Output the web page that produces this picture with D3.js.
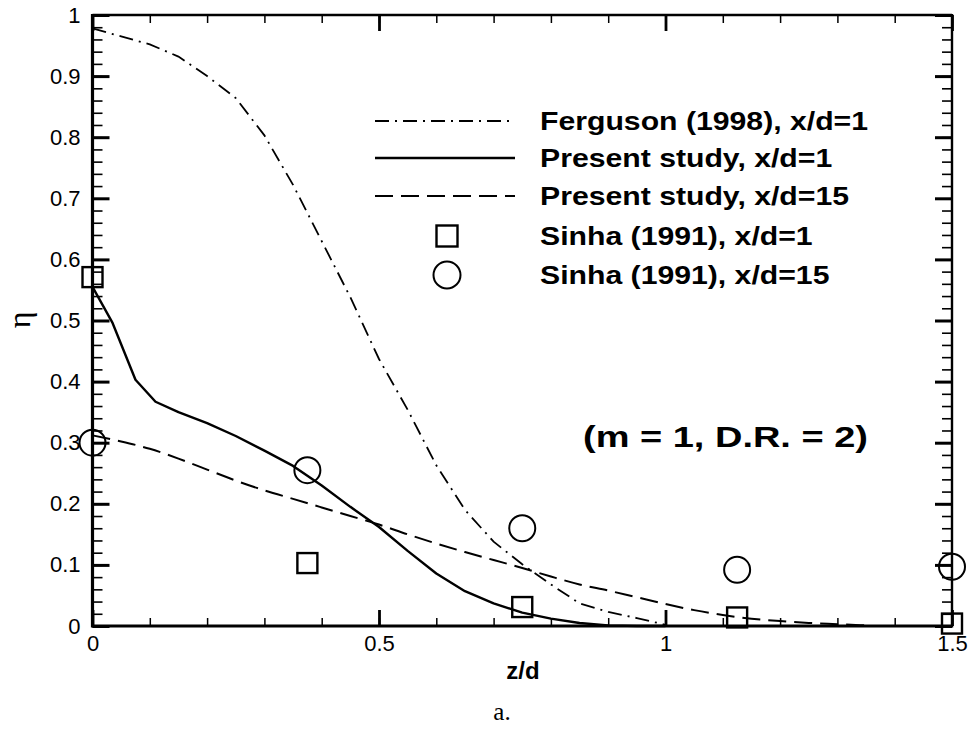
<!DOCTYPE html>
<html>
<head>
<meta charset="utf-8">
<script src="https://cdn.jsdelivr.net/npm/d3@7"></script>
<style>
  html, body { margin: 0; padding: 0; background: #fff; }
  svg { display: block; }
</style>
</head>
<body>
<svg id="chart" width="972" height="732"></svg>
<script>
// ---------- DATA ----------
const fergusonZ   = [0, 0.05, 0.1, 0.15, 0.2, 0.25, 0.3, 0.35, 0.4, 0.45, 0.5, 0.55, 0.6, 0.65, 0.7, 0.75, 0.8, 0.85, 0.9, 0.95, 1.0];
const fergusonEta = [0.978, 0.965, 0.952, 0.932, 0.9, 0.864, 0.803, 0.722, 0.63, 0.538, 0.437, 0.354, 0.263, 0.19, 0.138, 0.101, 0.068, 0.037, 0.023, 0.013, 0.002];

const presentX1Z   = [0, 0.035, 0.075, 0.11, 0.15, 0.2, 0.25, 0.3, 0.35, 0.4, 0.45, 0.5, 0.55, 0.6, 0.65, 0.7, 0.75, 0.8, 0.85, 0.9, 0.95, 1.0];
const presentX1Eta = [0.555, 0.496, 0.403, 0.367, 0.35, 0.332, 0.311, 0.287, 0.262, 0.23, 0.195, 0.162, 0.123, 0.086, 0.057, 0.037, 0.022, 0.012, 0.005, 0.001, 0, 0];

const presentX15Z   = [0, 0.05, 0.1, 0.15, 0.2, 0.25, 0.3, 0.35, 0.4, 0.45, 0.5, 0.55, 0.6, 0.65, 0.7, 0.75, 0.8, 0.85, 0.9, 0.95, 1.0, 1.05, 1.1, 1.15, 1.2, 1.25, 1.3, 1.35];
const presentX15Eta = [0.312, 0.302, 0.29, 0.274, 0.256, 0.238, 0.222, 0.208, 0.194, 0.18, 0.166, 0.15, 0.135, 0.121, 0.108, 0.095, 0.081, 0.068, 0.058, 0.047, 0.036, 0.026, 0.018, 0.012, 0.008, 0.005, 0.003, 0.001];

const sinhaZ      = [0, 0.375, 0.75, 1.125, 1.5];
const sinhaX1Eta  = [0.571, 0.103, 0.031, 0.014, 0.004];
const sinhaX15Eta = [0.30, 0.255, 0.16, 0.092, 0.097];

const xMajorTicks = [0, 0.5, 1, 1.5];
const xMajorLabels = ["0", "0.5", "1", "1.5"];
const yMajorTicks = [0, 0.1, 0.2, 0.3, 0.4, 0.5, 0.6, 0.7, 0.8, 0.9, 1];
const yMajorLabels = ["0", "0.1", "0.2", "0.3", "0.4", "0.5", "0.6", "0.7", "0.8", "0.9", "1"];

const legendLabels = ["Ferguson (1998), x/d=1", "Present study, x/d=1", "Present study, x/d=15", "Sinha (1991), x/d=1", "Sinha (1991), x/d=15"];
const annotationText = "(m = 1, D.R. = 2)";
const xTitle = "z/d";
const yTitle = "η";
const caption = "a.";

// ---------- LAYOUT ----------
const L = 92.5, R = 952, T = 15, B = 626;
const svg = d3.select("#chart");
const x = d3.scaleLinear().domain([0, 1.5]).range([L, R]);
const y = d3.scaleLinear().domain([0, 1]).range([B, T]);

const font = "'Liberation Sans', Arial, Helvetica, sans-serif";
const serif = "'Liberation Serif', 'Times New Roman', serif";

// ---------- AXES ----------
const xMinor = d3.range(0, 1.5001, 0.1).map(v => +v.toFixed(2));
const yMinor = d3.range(0, 1.0001, 0.02).map(v => +v.toFixed(2));

function styleAxis(g, w) {
  g.attr("font-size", null).attr("font-family", null);
  g.selectAll("path.domain").remove();
  g.selectAll(".tick line").attr("stroke", "#000").attr("stroke-width", w);
  g.selectAll(".tick text")
    .style("font-family", font).style("font-size", "22px").style("fill", "#000");
}
// bottom
svg.append("g").attr("transform", `translate(0,${B})`)
  .call(d3.axisBottom(x).tickValues(xMinor).tickSize(-8).tickFormat(""))
  .call(g => styleAxis(g, 1.5));
svg.append("g").attr("transform", `translate(0,${B})`)
  .call(d3.axisBottom(x).tickValues(xMajorTicks).tickSize(-16).tickPadding(9)
    .tickFormat((d, i) => xMajorLabels[i]))
  .call(g => styleAxis(g, 2.8));
// top
svg.append("g").attr("transform", `translate(0,${T})`)
  .call(d3.axisTop(x).tickValues(xMinor).tickSize(-8).tickFormat(""))
  .call(g => styleAxis(g, 1.5));
svg.append("g").attr("transform", `translate(0,${T})`)
  .call(d3.axisTop(x).tickValues(xMajorTicks).tickSize(-16).tickFormat(""))
  .call(g => styleAxis(g, 2.8));
// left
svg.append("g").attr("transform", `translate(${L},0)`)
  .call(d3.axisLeft(y).tickValues(yMinor).tickSize(-10).tickFormat(""))
  .call(g => styleAxis(g, 1.6));
svg.append("g").attr("transform", `translate(${L},0)`)
  .call(d3.axisLeft(y).tickValues(yMajorTicks).tickSize(-17).tickPadding(12)
    .tickFormat((d, i) => yMajorLabels[i]))
  .call(g => styleAxis(g, 3));
// right
svg.append("g").attr("transform", `translate(${R},0)`)
  .call(d3.axisRight(y).tickValues(yMinor).tickSize(-10).tickFormat(""))
  .call(g => styleAxis(g, 1.6));
svg.append("g").attr("transform", `translate(${R},0)`)
  .call(d3.axisRight(y).tickValues(yMajorTicks).tickSize(-17).tickFormat(""))
  .call(g => styleAxis(g, 3));

// frame
svg.append("line").attr("x1", L).attr("x2", R).attr("y1", B).attr("y2", B).attr("stroke", "#000").attr("stroke-width", 3.2);
svg.append("line").attr("x1", L).attr("x2", R).attr("y1", T).attr("y2", T).attr("stroke", "#000").attr("stroke-width", 2.4);
svg.append("line").attr("x1", L).attr("x2", L).attr("y1", T - 1).attr("y2", B + 1.5).attr("stroke", "#000").attr("stroke-width", 3.2);
svg.append("line").attr("x1", R).attr("x2", R).attr("y1", T - 1).attr("y2", B + 1.5).attr("stroke", "#000").attr("stroke-width", 2.4);

// ---------- LINES ----------
const smooth = d3.line().x(d => x(d[0])).y(d => y(d[1])).curve(d3.curveMonotoneX);
const poly = d3.line().x(d => x(d[0])).y(d => y(d[1])).curve(d3.curveLinear);
const ferg = fergusonZ.map((z, i) => [z, fergusonEta[i]]);
const p1 = presentX1Z.map((z, i) => [z, presentX1Eta[i]]);
const p15 = presentX15Z.map((z, i) => [z, presentX15Eta[i]]);

const dashDot = "14,6,2,6";
const dashed = "18,8";

svg.append("path").attr("d", poly(ferg)).attr("fill", "none").attr("stroke", "#000")
  .attr("stroke-width", 1.8).attr("stroke-dasharray", dashDot);
svg.append("path").attr("d", poly(p1)).attr("fill", "none").attr("stroke", "#000")
  .attr("stroke-width", 2.4).attr("stroke-linejoin", "round");
svg.append("path").attr("d", smooth(p15)).attr("fill", "none").attr("stroke", "#000")
  .attr("stroke-width", 2).attr("stroke-dasharray", dashed);

// ---------- MARKERS ----------
const sq = 20, cr = 13;
svg.append("g").selectAll("rect").data(sinhaZ).join("rect")
  .attr("x", (d) => x(d) - sq / 2).attr("y", (d, i) => y(sinhaX1Eta[i]) - sq / 2)
  .attr("width", sq).attr("height", sq)
  .attr("fill", "none").attr("stroke", "#000").attr("stroke-width", 2.4);
svg.append("g").selectAll("circle").data(sinhaZ).join("circle")
  .attr("cx", (d) => x(d)).attr("cy", (d, i) => y(sinhaX15Eta[i])).attr("r", cr)
  .attr("fill", "none").attr("stroke", "#000").attr("stroke-width", 2);

// ---------- LEGEND ----------
const legRows = [121, 158, 196, 236, 275];
const legX1 = 375, legX2 = 515, legText = 540;
const legStyles = [
  { type: "line", dash: dashDot, w: 1.8 },
  { type: "line", dash: null, w: 2.4 },
  { type: "line", dash: dashed, w: 2 },
  { type: "square" },
  { type: "circle" }
];
const leg = svg.append("g");
legStyles.forEach((s, i) => {
  const cy = legRows[i];
  if (s.type === "line") {
    const l = leg.append("line").attr("x1", legX1).attr("x2", legX2).attr("y1", cy).attr("y2", cy)
      .attr("stroke", "#000").attr("stroke-width", s.w);
    if (s.dash) l.attr("stroke-dasharray", s.dash);
  } else if (s.type === "square") {
    leg.append("rect").attr("x", 447 - 10.5).attr("y", cy - 10.5).attr("width", 21).attr("height", 21)
      .attr("fill", "none").attr("stroke", "#000").attr("stroke-width", 2.4);
  } else {
    leg.append("circle").attr("cx", 447).attr("cy", cy).attr("r", 13.5)
      .attr("fill", "none").attr("stroke", "#000").attr("stroke-width", 2);
  }
});
const legTextSel = leg.selectAll("text.leg").data(legendLabels).join("text")
  .attr("class", "leg")
  .attr("x", legText).attr("y", (d, i) => legRows[i] + 9)
  .attr("font-family", font).attr("font-weight", "bold").attr("font-size", 26)
  .attr("fill", "#000").text(d => d);
const fergW = legTextSel.nodes()[0].getComputedTextLength();
const k = 328 / fergW;
legTextSel.each(function () {
  const w = this.getComputedTextLength();
  d3.select(this).attr("textLength", w * k).attr("lengthAdjust", "spacingAndGlyphs");
});

// annotation
svg.append("text").attr("x", 583).attr("y", 447)
  .attr("font-family", font).attr("font-weight", "bold").attr("font-size", 29)
  .attr("fill", "#000").attr("textLength", 285).attr("lengthAdjust", "spacingAndGlyphs")
  .text(annotationText);

// axis titles
svg.append("text").attr("x", 523).attr("y", 679).attr("text-anchor", "middle")
  .attr("font-family", font).attr("font-weight", "bold").attr("font-size", 24).text(xTitle);
svg.append("text").attr("transform", "translate(30,320) rotate(-90)").attr("text-anchor", "middle")
  .attr("font-family", serif).attr("font-size", 32).text(yTitle);
svg.append("text").attr("x", 502).attr("y", 720).attr("text-anchor", "middle")
  .attr("font-family", serif).attr("font-size", 25).text(caption);
</script>
</body>
</html>
